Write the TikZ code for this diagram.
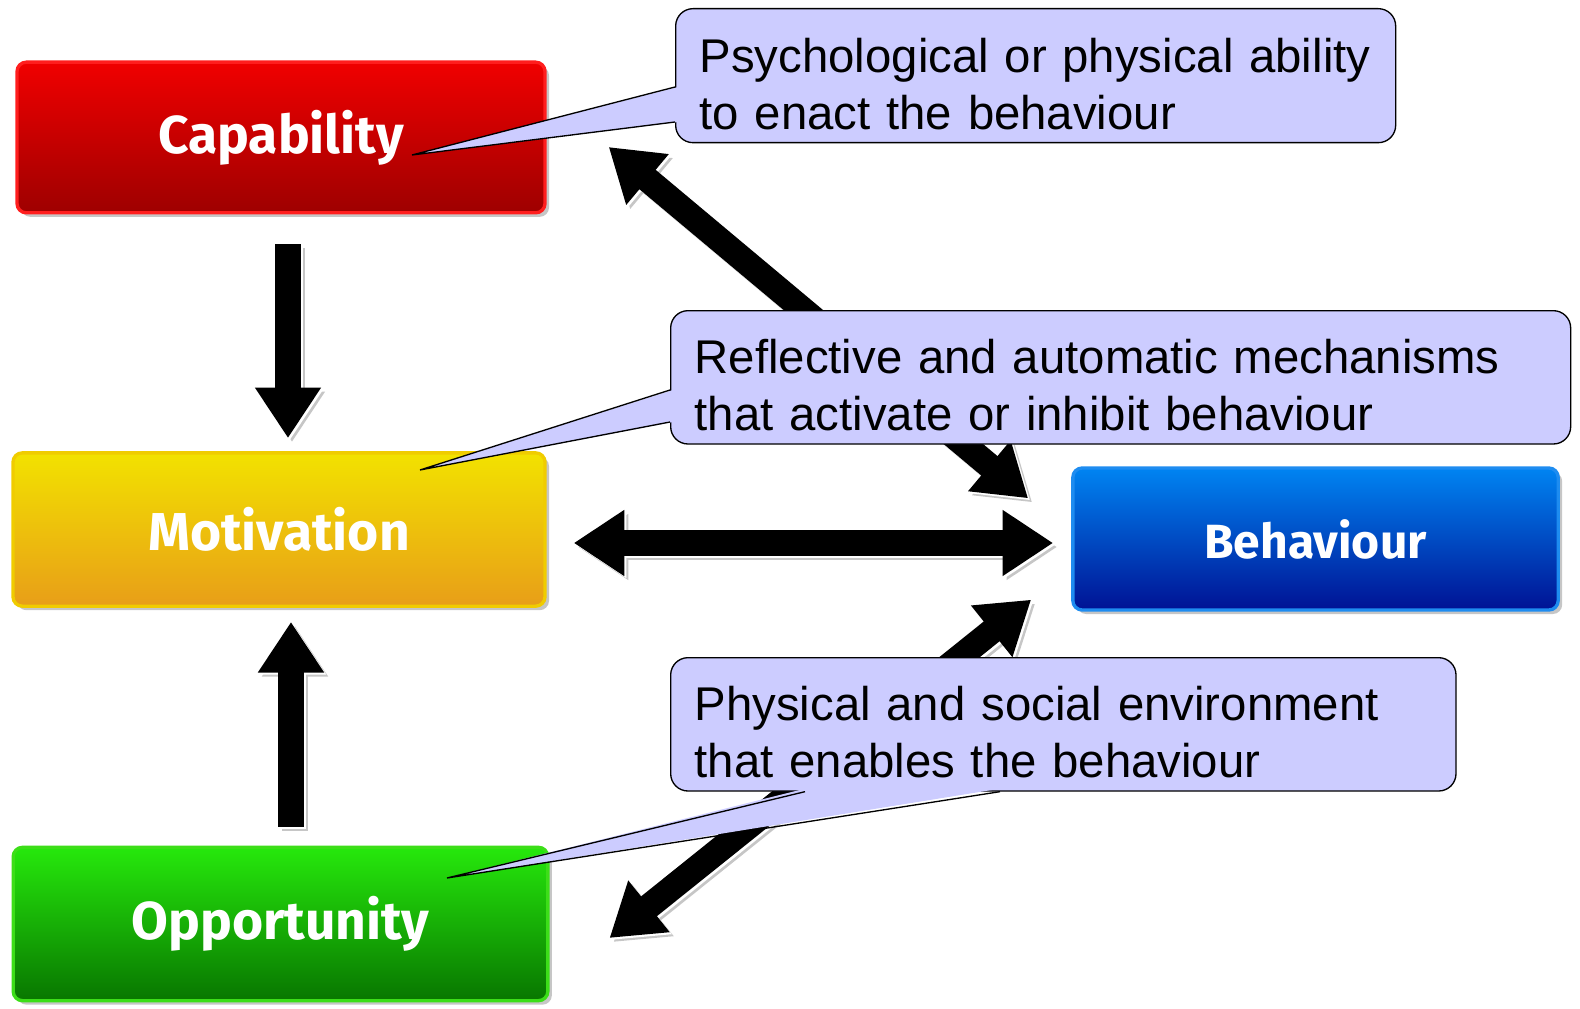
\documentclass[tikz,border=0pt]{standalone}
\usepackage{fontspec}
\setmainfont{Liberation Sans}
\newfontfamily\boxfont{Fira Sans}
\usetikzlibrary{calc,arrows.meta,shadows}

\definecolor{capTop}{RGB}{240,0,0}
\definecolor{capBot}{RGB}{158,0,0}
\definecolor{capRim}{RGB}{255,30,30}
\definecolor{motTop}{RGB}{242,226,0}
\definecolor{motBot}{RGB}{232,158,24}
\definecolor{motRim}{RGB}{240,204,0}
\definecolor{oppTop}{RGB}{38,232,12}
\definecolor{oppBot}{RGB}{8,118,0}
\definecolor{oppRim}{RGB}{60,222,24}
\definecolor{behTop}{RGB}{0,132,242}
\definecolor{behBot}{RGB}{0,18,148}
\definecolor{behRim}{RGB}{30,140,240}
\definecolor{callFill}{RGB}{204,204,255}

\newcommand{\firstline}{\rule{0pt}{38pt}}

\tikzset{every picture/.style={line width=0.75pt}}
\tikzset{
  combbox/.style={rounded corners=7pt, line width=2.5pt, font=\boxfont\bfseries\fontsize{40}{48}\selectfont,
    text=white, drop shadow={shadow xshift=3pt, shadow yshift=-3pt, opacity=0.45}},
  callbox/.style={draw=black, fill=callFill, rounded corners=13pt, line width=1pt, align=left,
    inner xsep=18pt, font=\fontsize{35.5}{42.75}\selectfont, anchor=north west},
  bigarrow/.style={line width=19pt, -{Triangle[length=38pt,width=47pt]}},
  twoway/.style={line width=19pt, {Triangle[length=38pt,width=47pt]}-{Triangle[length=38pt,width=47pt]}},
  shade/.style={draw=gray!45, transform canvas={shift={(3pt,-3pt)}}},
  gap/.style={draw=white, transform canvas={shift={(1.5pt,-1.5pt)}}}
}

\begin{document}
\begin{tikzpicture}[x=0.75pt,y=0.75pt,yscale=-1,xscale=1]
	\useasboundingbox (0,0) rectangle (1580,1009);

	% COM-B boxes
	\node [combbox, draw=capRim, top color=capTop, bottom color=capBot, minimum width=396pt, minimum height=113pt] (cap) at (281,137.5) {Capability};
	\node [combbox, draw=motRim, top color=motTop, bottom color=motBot, minimum width=399pt, minimum height=115pt] (mot) at (279,529.5) {Motivation};
	\node [combbox, draw=oppRim, top color=oppTop, bottom color=oppBot, minimum width=401pt, minimum height=115pt] (opp) at (280.5,924) {Opportunity};
	\node [combbox, draw=behRim, top color=behTop, bottom color=behBot, minimum width=364pt, minimum height=106.5pt, font=\boxfont\bfseries\fontsize{36}{44}\selectfont] (beh) at (1315.5,539) {Behaviour};

	% arrow ends
	\coordinate (a1) at ($(cap.south)+(7,30)$);
	\coordinate (b1) at ($(mot.north)+(9,-13)$);
	\coordinate (a2) at ($(opp.north)+(10.5,-19)$);
	\coordinate (b2) at ($(mot.south)+(12,14)$);
	\coordinate (a3) at ($(mot.east)+(27,13.5)$);
	\coordinate (b3) at ($(beh.west)+(-18,4)$);
	\coordinate (a4) at ($(cap.east)+(62,9.5)$);
	\coordinate (b4) at ($(beh.north west)+(-43,32)$);
	\coordinate (a5) at ($(opp.east)+(60,14)$);
	\coordinate (b5) at ($(beh.south west)+(-40,-12)$);

	% Block arrows: shade, gap, then black
	\foreach \s/\e in {a1/b1,a2/b2} {
		\draw [bigarrow, shade] (\s) -- (\e);
		\draw [bigarrow, gap] (\s) -- (\e);
		\draw [bigarrow] (\s) -- (\e);
	}
	\foreach \s/\e in {a3/b3,a4/b4,a5/b5} {
		\draw [twoway, shade] (\s) -- (\e);
		\draw [twoway, gap] (\s) -- (\e);
		\draw [twoway] (\s) -- (\e);
	}

	% Callouts
	\node [callbox, minimum width=540pt, minimum height=100.5pt, text width=504pt] (call1) at (675,8) {\firstline Psychological or physical ability\\to enact the behaviour};
	\node [callbox, minimum width=675pt, minimum height=100pt, text width=639pt] (call2) at (670,310) {\firstline Reflective and automatic mechanisms\\that activate or inhibit behaviour};
	\node [callbox, minimum width=589pt, minimum height=100pt, text width=553pt] (call3) at (670,657) {\firstline Physical and social environment\\that enables the behaviour};

	% Callout pointers
	\fill [callFill] ($(call1.north west)+(3,79)$) -- ($(cap.center)+(131,17.5)$) -- ($(call1.north west)+(3,114)$) -- cycle;
	\draw [line width=1pt] ($(call1.north west)+(0,79)$) -- ($(cap.center)+(131,17.5)$) -- ($(call1.north west)+(0,114)$);
	\fill [callFill] ($(call2.north west)+(3,80)$) -- ($(mot.center)+(141,-59.5)$) -- ($(call2.north west)+(3,112)$) -- cycle;
	\draw [line width=1pt] ($(call2.north west)+(0,80)$) -- ($(mot.center)+(141,-59.5)$) -- ($(call2.north west)+(0,112)$);
	\fill [callFill] ($(call3.south west)+(135,-3)$) -- ($(opp.center)+(166.5,-46)$) -- ($(call3.south west)+(330,-3)$) -- cycle;
	\draw [line width=1pt] ($(call3.south west)+(135,0)$) -- ($(opp.center)+(166.5,-46)$) -- ($(call3.south west)+(330,0)$);

\end{tikzpicture}
\end{document}
